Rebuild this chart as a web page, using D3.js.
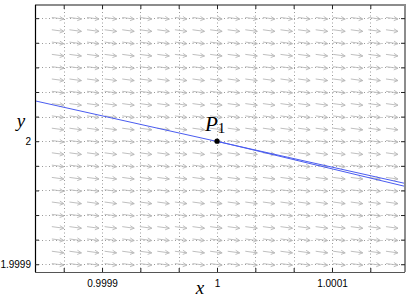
<!DOCTYPE html>
<html>
<head>
<meta charset="utf-8">
<script src="https://cdn.jsdelivr.net/npm/d3@7"></script>
<style>
  body { margin: 0; background: #fff; }
  svg { display: block; }
</style>
</head>
<body>
<svg id="chart"></svg>
<script>
// axis limits
const xLim = [0.9998417, 1.0001635]
const yLim = [1.9998937, 2.0001107]

const xTicks = [0.99986667, 0.9999, 0.99993333, 0.99996667, 1, 1.00003333, 1.00006667, 1.0001, 1.00013333]
const xTickLabels = ["", "0.9999", "", "", "1", "", "", "1.0001", ""]
const yTicks = [1.9999, 1.99992, 1.99994, 1.99996, 1.99998, 2, 2.00002, 2.00004, 2.00006, 2.00008, 2.0001]
const yTickLabels = ["1.9999", "", "", "", "", "2", "", "", "", "", ""]

// direction field grid
const fieldX = [0.99986157, 0.99987687, 0.99989217, 0.99990748, 0.99992278, 0.99993809, 0.9999533,
  0.99996861, 0.99998391, 0.99999922, 1.00001452, 1.00002983, 1.00004513, 1.00006043, 1.00007574,
  1.00009104, 1.00010626, 1.00012157, 1.00013687, 1.00015217]
const fieldY = [1.9999, 1.99991, 1.99992, 1.99993, 1.99994, 1.99995, 1.99996, 1.99997, 1.99998, 1.99999, 2,
  2.00001, 2.00002, 2.00003, 2.00004, 2.00005, 2.00006, 2.00007, 2.00008, 2.00009, 2.0001]

// two solution curves
const curve1 = [[0.9998417, 2.0000328], [1.0001635, 1.9999657]]
const curve2 = [[1, 2], [1.0001635, 1.9999633]]
const point = [1, 2]

const width = 409, height = 300
const margin = {top: 5, right: 4, bottom: 28, left: 35}

const svg = d3.select("#chart").attr("width", width).attr("height", height)

const x = d3.scaleLinear().domain(xLim).range([margin.left, width - margin.right])
const y = d3.scaleLinear().domain(yLim).range([height - margin.bottom, margin.top])

const x0 = x.range()[0], x1 = x.range()[1]
const y0 = y.range()[1], y1 = y.range()[0]

// grid
const grid = svg.append("g")
  .attr("stroke", "#9a9a9a")
  .attr("stroke-width", 1)
  .attr("stroke-dasharray", "1,2.5")
grid.selectAll(".gx").data(xTicks).join("line")
  .attr("x1", d => Math.round(x(d)) + 0.5).attr("x2", d => Math.round(x(d)) + 0.5)
  .attr("y1", y0).attr("y2", y1)
grid.selectAll(".gy").data(yTicks).join("line")
  .attr("y1", d => Math.round(y(d)) + 0.5).attr("y2", d => Math.round(y(d)) + 0.5)
  .attr("x1", x0).attr("x2", x1)

// direction field arrows
const field = []
fieldY.forEach(fy => fieldX.forEach(fx => field.push([fx, fy])))
const len = 12
const arrows = svg.append("g")
  .attr("stroke", "#b8b8b8")
  .attr("stroke-width", 0.9)
  .attr("fill", "none")
arrows.selectAll("path").data(field).join("path")
  .attr("d", d => {
    const cx = x(d[0]), cy = y(d[1])
    const ax = cx - len / 2, ay = cy - 0.7
    const bx = cx + len / 2, by = cy + 0.9
    return `M${ax},${ay}L${bx},${by}M${bx - 4},${by - 2.6}L${bx},${by}L${bx - 4.2},${by + 1.6}`
  })

// curves
const line = d3.line().x(d => x(d[0])).y(d => y(d[1]))
svg.selectAll(".curve").data([curve1, curve2]).join("path")
  .attr("d", line)
  .attr("fill", "none")
  .attr("stroke", "#4a5cf0")
  .attr("stroke-width", 1)

// point
svg.append("circle")
  .attr("cx", x(point[0])).attr("cy", y(point[1]))
  .attr("r", 2.6).attr("fill", "#000")

const pLabel = svg.append("text")
  .attr("x", x(point[0]) - 12).attr("y", y(point[1]) - 10.5)
  .attr("font-family", "Liberation Serif, DejaVu Serif, serif")
  .attr("font-size", 21)
pLabel.append("tspan").attr("font-style", "italic").text("P")
pLabel.append("tspan").attr("font-size", 15).attr("dy", 2).text("1")

// box
svg.append("line").attr("x1", x0).attr("x2", x1 + 1).attr("y1", y0).attr("y2", y0)
  .attr("stroke", "#8c8c8c").attr("stroke-width", 2)
svg.append("line").attr("x1", x1).attr("x2", x1).attr("y1", y0).attr("y2", y1)
  .attr("stroke", "#8c8c8c").attr("stroke-width", 2)
svg.append("line").attr("x1", x0).attr("x2", x1).attr("y1", y1 + 0.5).attr("y2", y1 + 0.5)
  .attr("stroke", "#555").attr("stroke-width", 1.2)
svg.append("line").attr("x1", x0 + 0.5).attr("x2", x0 + 0.5).attr("y1", y0).attr("y2", y1)
  .attr("stroke", "#000").attr("stroke-width", 1.2)

// axes with inward ticks
const fmtX = (d, i) => xTickLabels[i]
const fmtY = (d, i) => yTickLabels[i]

const gx = svg.append("g").attr("transform", `translate(0,${y1})`)
  .call(d3.axisBottom(x).tickValues(xTicks).tickFormat(fmtX).tickSizeInner(-4).tickSizeOuter(0).tickPadding(8))
const gxTop = svg.append("g").attr("transform", `translate(0,${y0})`)
  .call(d3.axisTop(x).tickValues(xTicks).tickFormat("").tickSizeInner(-4).tickSizeOuter(0))
const gy = svg.append("g").attr("transform", `translate(${x0},0)`)
  .call(d3.axisLeft(y).tickValues(yTicks).tickFormat(fmtY).tickSizeInner(-4).tickSizeOuter(0).tickPadding(4))
const gyRight = svg.append("g").attr("transform", `translate(${x1},0)`)
  .call(d3.axisRight(y).tickValues(yTicks).tickFormat("").tickSizeInner(-4).tickSizeOuter(0))

;[gx, gxTop, gy, gyRight].forEach(g => {
  g.select(".domain").remove()
  g.selectAll("line").attr("stroke", "#222")
  g.selectAll("text").attr("font-family", "Liberation Sans, Arial, sans-serif")
    .attr("font-size", 10).attr("fill", "#000")
})

// axis titles
svg.append("text")
  .attr("x", 200).attr("y", 294)
  .attr("text-anchor", "middle")
  .attr("font-family", "Liberation Serif, DejaVu Serif, serif")
  .attr("font-style", "italic").attr("font-size", 19)
  .text("x")
svg.append("text")
  .attr("x", 21).attr("y", 127)
  .attr("text-anchor", "middle")
  .attr("font-family", "Liberation Serif, DejaVu Serif, serif")
  .attr("font-style", "italic").attr("font-size", 19)
  .text("y")
</script>
</body>
</html>
